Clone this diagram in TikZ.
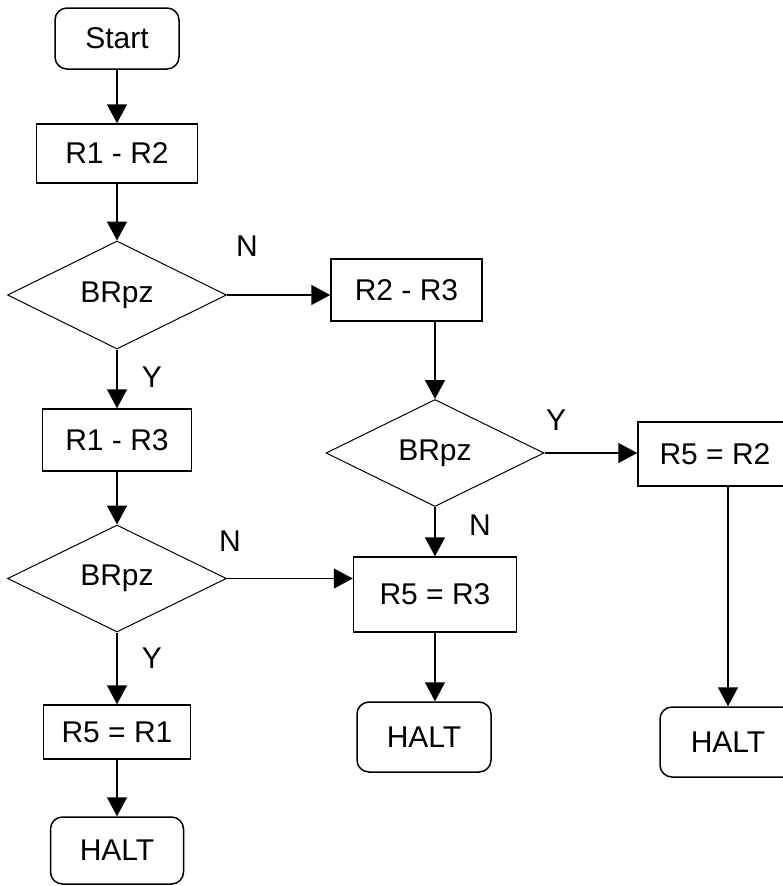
\documentclass[tikz,border=0pt]{standalone}
\usepackage{fontspec}
\setmainfont{Liberation Sans}
\usetikzlibrary{shapes.geometric,arrows.meta}

\begin{document}
\begin{tikzpicture}[x=1pt,y=-1pt,font=\fontsize{30}{36}\selectfont]
   \useasboundingbox (0,0) rectangle (783,886);
   \begin{scope}[every node/.style={draw=black,line width=1.5pt,inner sep=0pt}]
    \node[rounded corners=12pt,minimum width=124pt,minimum height=61pt] (start) at (117,38.5) {Start};
    \node[minimum width=161pt,minimum height=59pt] (r1r2) at (117,153.5) {R1 - R2};
    \node[diamond,aspect=2,line width=1pt,minimum width=219pt,minimum height=108pt] (d1) at (117,295) {BRpz};
    \node[minimum width=151pt,minimum height=62pt] (r2r3) at (406.5,290) {R2 - R3};
    \node[minimum width=149pt,minimum height=62pt] (r1r3) at (117,440) {R1 - R3};
    \node[diamond,aspect=2,line width=1pt,minimum width=218pt,minimum height=107pt] (d2) at (435,453) {BRpz};
    \node[minimum width=154pt,minimum height=64pt] (r5r2) at (715,454) {R5 = R2};
    \node[diamond,aspect=2,line width=1pt,minimum width=219pt,minimum height=107pt] (d3) at (117,578.5) {BRpz};
    \node[minimum width=163pt,minimum height=75pt] (r5r3) at (435,594.5) {R5 = R3};
    \node[minimum width=147pt,minimum height=54pt] (r5r1) at (117,732) {R5 = R1};
    \node[rounded corners=12pt,minimum width=133pt,minimum height=67pt] (halt1) at (117,850.5) {HALT};
    \node[rounded corners=12pt,minimum width=134pt,minimum height=70pt] (halt2) at (424,737) {HALT};
    \node[rounded corners=12pt,minimum width=136pt,minimum height=70pt] (halt3) at (728,742) {HALT};
   \end{scope}
   \node (n1) at (247,246) {N};
   \node (y1) at (152,377) {Y};
   \node (y2) at (556,420) {Y};
   \node (n2) at (480,525) {N};
   \node (n3) at (230,541) {N};
   \node (y3) at (152,658) {Y};
   \begin{scope}[every edge/.style={draw=black,line width=1.5pt,-{Triangle[length=19pt,width=20pt]}}]
    \draw (start) edge (r1r2);
    \draw (r1r2) edge (d1);
    \draw (d1) edge (r1r3);
    \draw (r1r3) edge (d3);
    \draw (d3) edge (r5r1);
    \draw (r5r1) edge (halt1);
    \draw (d1.east) edge (d1.east -| r2r3.west);
    \draw (d2.north |- r2r3.south) edge (d2);
    \draw (d2.east) edge (d2.east -| r5r2.west);
    \draw (d2) edge (r5r3);
    \draw (d3.east) edge (d3.east -| r5r3.west);
    \draw (r5r3.south) edge (r5r3.south |- halt2.north);
    \draw (halt3.north |- r5r2.south) edge (halt3);
   \end{scope}
\end{tikzpicture}
\end{document}
